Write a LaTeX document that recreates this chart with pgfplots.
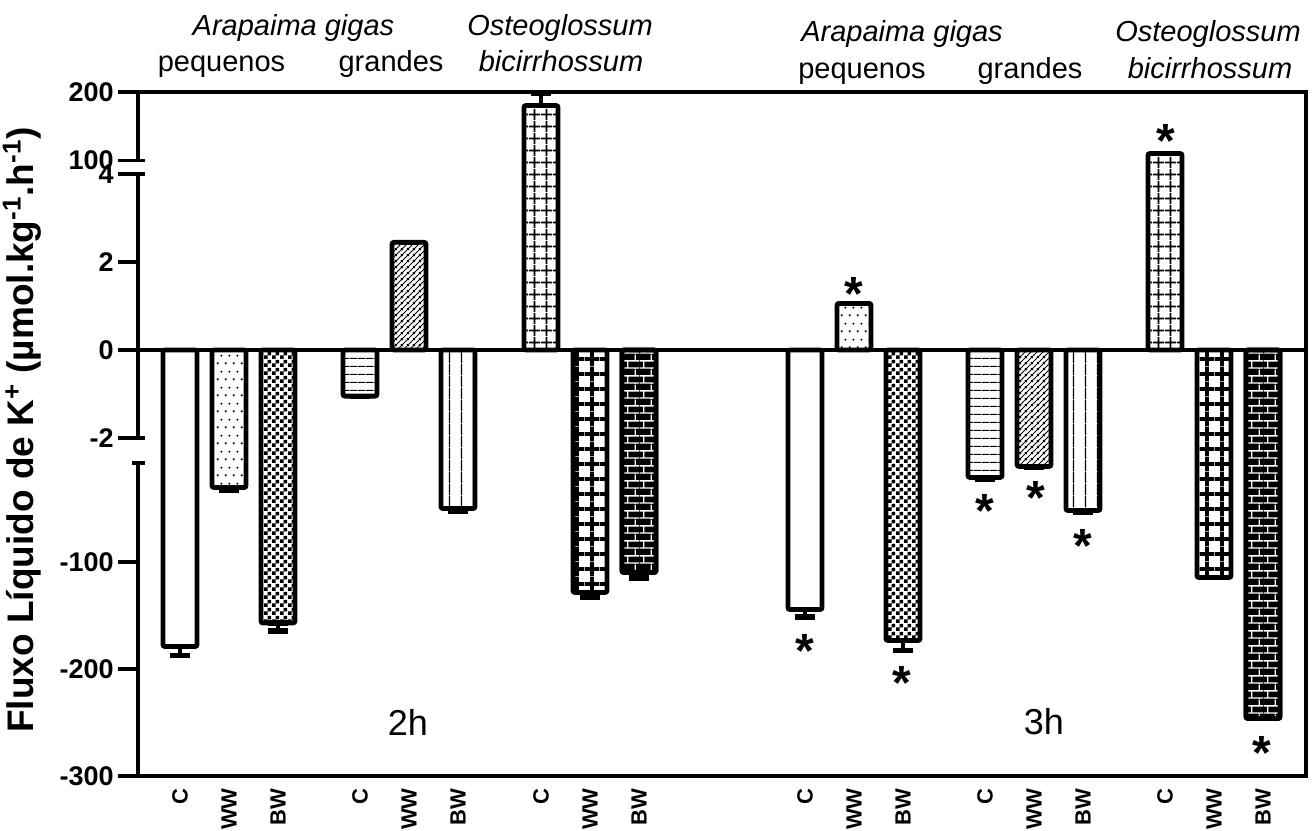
\documentclass[border=0pt]{standalone}
\usepackage{fontspec}
\setmainfont{Liberation Sans}
\usepackage{pgfplots}
\usepackage{pgfplotstable}
\pgfplotsset{compat=1.18}
\usetikzlibrary{patterns.meta}

\pgfdeclarepattern{name=pdots, type=uncolored,
  bottom left={\pgfpoint{0pt}{0pt}}, top right={\pgfpoint{4pt}{8pt}}, tile size={\pgfpoint{4pt}{8pt}},
  code={\pgfpathcircle{\pgfpoint{1pt}{2pt}}{0.6pt}\pgfpathcircle{\pgfpoint{3pt}{6pt}}{0.6pt}\pgfusepath{fill}}}
\pgfdeclarepattern{name=pcheck, type=uncolored,
  bottom left={\pgfpoint{0pt}{0pt}}, top right={\pgfpoint{4pt}{4pt}}, tile size={\pgfpoint{4pt}{4pt}},
  code={\pgfpathrectangle{\pgfpoint{0pt}{0pt}}{\pgfpoint{2pt}{2pt}}\pgfpathrectangle{\pgfpoint{2pt}{2pt}}{\pgfpoint{2pt}{2pt}}\pgfusepath{fill}}}
\pgfdeclarepattern{name=phlines, type=uncolored,
  bottom left={\pgfpoint{0pt}{0pt}}, top right={\pgfpoint{3.8pt}{3.8pt}}, tile size={\pgfpoint{3.8pt}{3.8pt}},
  code={\pgfsetlinewidth{0.6pt}\pgfpathmoveto{\pgfpoint{-0.1pt}{1.9pt}}\pgfpathlineto{\pgfpoint{3.9pt}{1.9pt}}\pgfusepath{stroke}}}
\pgfdeclarepattern{name=pnelines, type=uncolored,
  bottom left={\pgfpoint{0pt}{0pt}}, top right={\pgfpoint{3pt}{3pt}}, tile size={\pgfpoint{3pt}{3pt}},
  code={\pgfsetlinewidth{0.55pt}
    \pgfpathmoveto{\pgfpoint{-0.5pt}{-0.5pt}}\pgfpathlineto{\pgfpoint{3.5pt}{3.5pt}}
    \pgfpathmoveto{\pgfpoint{-0.5pt}{2.5pt}}\pgfpathlineto{\pgfpoint{0.5pt}{3.5pt}}
    \pgfpathmoveto{\pgfpoint{2.5pt}{-0.5pt}}\pgfpathlineto{\pgfpoint{3.5pt}{0.5pt}}
    \pgfusepath{stroke}}}
\pgfdeclarepattern{name=pvlines, type=uncolored,
  bottom left={\pgfpoint{0pt}{0pt}}, top right={\pgfpoint{6pt}{6pt}}, tile size={\pgfpoint{6pt}{6pt}},
  code={\pgfsetlinewidth{0.7pt}\pgfpathmoveto{\pgfpoint{3pt}{-0.1pt}}\pgfpathlineto{\pgfpoint{3pt}{6.1pt}}\pgfusepath{stroke}}}
\pgfdeclarepattern{name=pgridfine, type=uncolored,
  bottom left={\pgfpoint{0pt}{0pt}}, top right={\pgfpoint{5.75pt}{5.75pt}}, tile size={\pgfpoint{5.75pt}{5.75pt}},
  code={\pgfsetlinewidth{1pt}
    \pgfpathmoveto{\pgfpoint{2.875pt}{-0.1pt}}\pgfpathlineto{\pgfpoint{2.875pt}{5.85pt}}
    \pgfpathmoveto{\pgfpoint{-0.1pt}{2.875pt}}\pgfpathlineto{\pgfpoint{5.85pt}{2.875pt}}
    \pgfusepath{stroke}}}
\pgfdeclarepattern{name=pgridcoarse, type=uncolored,
  bottom left={\pgfpoint{0pt}{0pt}}, top right={\pgfpoint{7.5pt}{7.5pt}}, tile size={\pgfpoint{7.5pt}{7.5pt}},
  code={\pgfsetlinewidth{2pt}
    \pgfpathmoveto{\pgfpoint{3.75pt}{-0.1pt}}\pgfpathlineto{\pgfpoint{3.75pt}{7.6pt}}
    \pgfpathmoveto{\pgfpoint{-0.1pt}{3.75pt}}\pgfpathlineto{\pgfpoint{7.6pt}{3.75pt}}
    \pgfusepath{stroke}}}
\pgfdeclarepattern{name=pbricks, type=uncolored,
  bottom left={\pgfpoint{0pt}{0pt}}, top right={\pgfpoint{8pt}{7.3pt}}, tile size={\pgfpoint{8pt}{7.3pt}},
  code={\pgfsetlinewidth{0.7pt}
    \pgfpathmoveto{\pgfpoint{-0.1pt}{0.5pt}}\pgfpathlineto{\pgfpoint{8.1pt}{0.5pt}}
    \pgfpathmoveto{\pgfpoint{-0.1pt}{4.15pt}}\pgfpathlineto{\pgfpoint{8.1pt}{4.15pt}}
    \pgfpathmoveto{\pgfpoint{2pt}{0.5pt}}\pgfpathlineto{\pgfpoint{2pt}{4.15pt}}
    \pgfpathmoveto{\pgfpoint{6pt}{4.15pt}}\pgfpathlineto{\pgfpoint{6pt}{7.4pt}}
    \pgfpathmoveto{\pgfpoint{6pt}{-0.1pt}}\pgfpathlineto{\pgfpoint{6pt}{0.5pt}}
    \pgfusepath{stroke}}}

% columns: x position, mean, error plus, error minus
\pgfplotstableread{
x y ep em
180 -179 0 9
805 -144.4 0 7.5
}\Csmall
\pgfplotstableread{
x y ep em
229 -30.4 0 3
854 1.06 0.1 0
}\WWsmall
\pgfplotstableread{
x y ep em
278 -157 0 8
903 -173.4 0 10
}\BWsmall
\pgfplotstableread{
x y ep em
360 -1.05 0 0.08
985 -21 0 2
}\Clarge
\pgfplotstableread{
x y ep em
409 2.45 0.12 0
1034 -10.7 0 0.5
}\WWlarge
\pgfplotstableread{
x y ep em
458 -50 0 3
1083 -51.9 0 2
}\BWlarge
\pgfplotstableread{
x y ep em
541 180.3 12 0
1165 110.5 0 0
}\Costeo
\pgfplotstableread{
x y ep em
590 -128.5 0 5
1214 -114.5 0 0
}\WWosteo
\pgfplotstableread{
x y ep em
639 -109.8 0 5.5
1263 -246.3 0 0
}\BWosteo

\begin{document}
\begin{tikzpicture}
\useasboundingbox (-69pt,-27.5pt) rectangle (588pt,388pt);
\begin{axis}[
  at={(0pt,0pt)}, anchor=south west,
  scale only axis, width=584pt, height=342pt,
  xmin=138, xmax=1306, ymin=-300, ymax=200,
  y coord trafo/.code={\pgfmathparse{(#1)>50 ? 189.3+0.687*((#1)-100) : ((#1)<-5 ? -105+1.07*(#1) : 43.95*(#1))}},
  clip=false,
  axis line style={draw=none},
  ytick={-300,-200,-100,-2,0,2,4,100,200},
  yticklabels={-300,-200,-100,-2,0,2,4,100,200},
  ytick pos=left, xtick pos=bottom,
  tick align=outside, major tick length=10pt,
  ytick style={line width=1.75pt, black},
  xtick={180,229,278,360,409,458,541,590,639,805,854,903,985,1034,1083,1165,1214,1263},
  xticklabels={C,WW,BW,C,WW,BW,C,WW,BW,C,WW,BW,C,WW,BW,C,WW,BW},
  xtick style={draw=none},
  xticklabel style={rotate=90, anchor=east, inner sep=0pt, font=\bfseries\fontsize{11}{12}\selectfont},
  xticklabel shift=-4pt,
  yticklabel style={font=\bfseries\fontsize{13.5}{14}\selectfont, inner sep=2pt},
  mybar/.style={ybar, bar width=34, bar shift=0pt, draw=black, line width=2.4pt, rounded corners=1pt,
    error bars/y dir=both, error bars/y explicit,
    error bars/error bar style={line width=2.4pt, black},
    error bars/error mark options={rotate=90, line width=2.6pt, mark size=5pt, black}},
]
\addplot[mybar, fill=white] table[x=x, y=y, y error plus=ep, y error minus=em] {\Csmall};
\addplot[mybar, pattern=pdots, pattern color=black] table[x=x, y=y, y error plus=ep, y error minus=em] {\WWsmall};
\addplot[mybar, pattern=pcheck, pattern color=black] table[x=x, y=y, y error plus=ep, y error minus=em] {\BWsmall};
\addplot[mybar, pattern=phlines, pattern color=black] table[x=x, y=y, y error plus=ep, y error minus=em] {\Clarge};
\addplot[mybar, pattern=pnelines, pattern color=black] table[x=x, y=y, y error plus=ep, y error minus=em] {\WWlarge};
\addplot[mybar, pattern=pvlines, pattern color=black] table[x=x, y=y, y error plus=ep, y error minus=em] {\BWlarge};
\addplot[mybar, pattern=pgridfine, pattern color=black] table[x=x, y=y, y error plus=ep, y error minus=em] {\Costeo};
\addplot[mybar, pattern=pgridcoarse, pattern color=black] table[x=x, y=y, y error plus=ep, y error minus=em] {\WWosteo};
\addplot[mybar, preaction={fill=black}, pattern=pbricks, pattern color=white] table[x=x, y=y, y error plus=ep, y error minus=em] {\BWosteo};

% frame and broken y axis
\draw[line width=2pt, line join=miter] (rel axis cs:0,1) -- (rel axis cs:1,1) -- (rel axis cs:1,0) -- (rel axis cs:0,0);
\draw[line width=2pt] (axis cs:138,0) -- (axis cs:1306,0);
\draw[line width=2pt] (axis cs:138,200) -- (axis cs:138,100);
\draw[line width=2pt] (axis cs:138,4) -- (axis cs:138,-2);
\draw[line width=2pt] (axis cs:138,-7.5) -- (axis cs:138,-300);
\draw[line width=1.75pt] (axis cs:138,100) -- (axis cs:145,100);
\draw[line width=1.75pt] (axis cs:138,4) -- (axis cs:145,4);
\draw[line width=1.75pt] (axis cs:138,-2) -- (axis cs:145,-2);
\draw[line width=1.75pt] (axis cs:132,-7.5) -- (axis cs:145,-7.5);
\end{axis}

% y label
\node[rotate=90, font=\bfseries\fontsize{18.5}{20}\selectfont] at (-58pt,173pt)
  {Fluxo Líquido de K\textsuperscript{+} (µmol.kg\textsuperscript{-1}.h\textsuperscript{-1})};

% group titles
\begin{scope}[every node/.style={anchor=base, font=\fontsize{14.5}{16}\selectfont}]
\node[font=\itshape\fontsize{14.5}{16}\selectfont] at (77.75pt,370pt) {Arapaima gigas};
\node at (41.75pt,352pt) {pequenos};
\node at (126.5pt,352pt) {grandes};
\node[font=\itshape\fontsize{14.5}{16}\selectfont] at (211pt,370pt) {Osteoglossum};
\node[font=\itshape\fontsize{14.5}{16}\selectfont] at (211.5pt,352pt) {bicirrhossum};
\node[font=\itshape\fontsize{14.5}{16}\selectfont] at (382pt,367pt) {Arapaima gigas};
\node at (362pt,348.5pt) {pequenos};
\node at (446pt,348.5pt) {grandes};
\node[font=\itshape\fontsize{14.5}{16}\selectfont] at (535pt,367pt) {Osteoglossum};
\node[font=\itshape\fontsize{14.5}{16}\selectfont] at (536pt,348.5pt) {bicirrhossum};
\end{scope}

\node[font=\fontsize{18}{20}\selectfont] at (135pt,27pt) {2h};
\node[font=\fontsize{18}{20}\selectfont] at (453pt,27pt) {3h};

% significance stars
\begin{scope}[every node/.style={anchor=base, inner sep=0pt, font=\bfseries\fontsize{24}{24}\selectfont}]
\node at (333.5pt,54.2pt) {*};
\node at (358pt,232.7pt) {*};
\node at (382pt,38.2pt) {*};
\node at (423.5pt,124.2pt) {*};
\node at (449pt,130.7pt) {*};
\node at (472.5pt,106.7pt) {*};
\node at (514pt,309.2pt) {*};
\node at (562pt,3.2pt) {*};
\end{scope}
\end{tikzpicture}
\end{document}
